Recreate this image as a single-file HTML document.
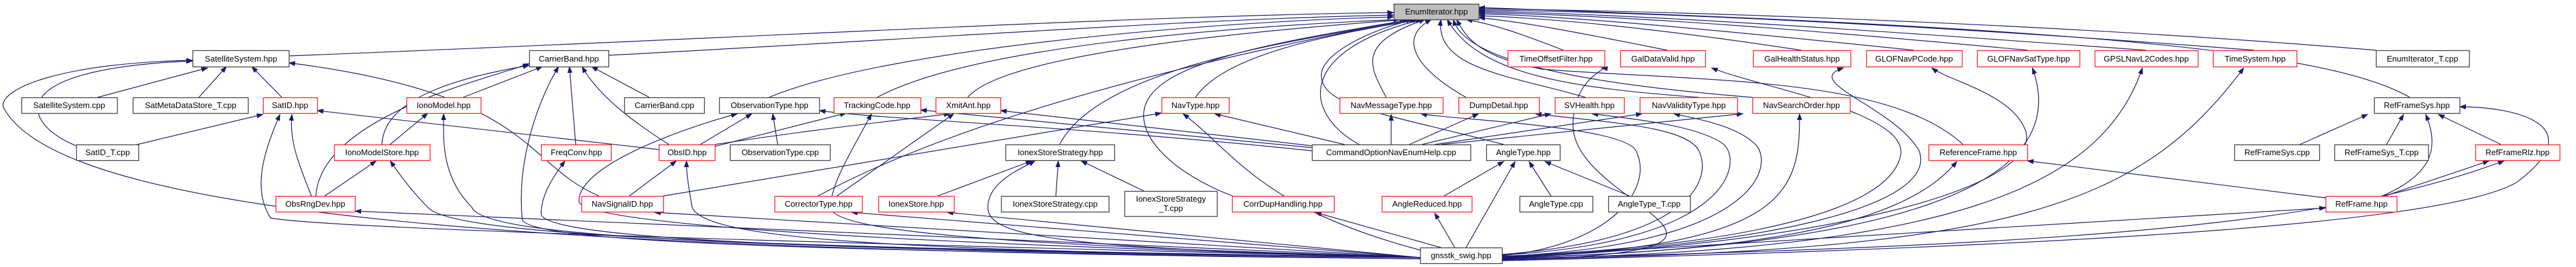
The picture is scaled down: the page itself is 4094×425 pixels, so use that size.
<!DOCTYPE html>
<html><head><meta charset="utf-8"><style>
html,body{margin:0;padding:0;background:#fff;}
svg{display:block;}
text{font-family:"Liberation Sans",sans-serif;font-size:13px;fill:#000;}
</style></head><body>
<svg width="4094" height="425" viewBox="0 0 4094 425" xmlns="http://www.w3.org/2000/svg">
<defs>
<marker id="a" markerWidth="11" markerHeight="8" refX="10" refY="4" orient="auto" markerUnits="userSpaceOnUse">
<path d="M0,0 L11,4 L0,8 z" fill="#191970"/>
</marker>
</defs>
<g fill="none" stroke="#191970" stroke-width="1.2" marker-end="url(#a)">
<!-- to EnumIterator -->
<path d="M459,89 C1200,60 1800,25 2215,20"/>
<path d="M967,88 C1500,60 1900,30 2215,24"/>
<path d="M1222,155 C1400,80 1900,35 2215,27"/>
<path d="M1394,155 C1550,70 2000,40 2225,31"/>
<path d="M1538,155 C1600,80 2050,45 2235,31"/>
<path d="M1684,230 C1750,100 2100,60 2245,31"/>
<path d="M1900,155 C1950,80 2150,50 2255,31"/>
<path d="M1300,312 C1600,150 2100,60 2240,31"/>
<path d="M1959,312 C1850,270 1790,200 1830,150 C1870,100 2000,70 2245,31"/>
<path d="M2160,230 C2070,180 2060,80 2260,31"/>
<path d="M2203,155 C2180,110 2150,70 2265,31"/>
<path d="M2330,155 C2250,110 2220,60 2275,31"/>
<path d="M2390,230 C2200,180 2100,170 2100,120 C2100,80 2200,40 2250,31"/>
<path d="M2520,155 C2400,120 2280,110 2290,31"/>
<path d="M2700,155 C2500,140 2350,120 2300,31"/>
<path d="M2785,155 C2600,140 2330,110 2310,31"/>
<path d="M2485,80 C2420,55 2380,40 2330,31"/>
<path d="M2650,80 C2500,50 2420,35 2350,28"/>
<path d="M2863,80 C2700,55 2500,30 2350,25"/>
<path d="M3042,80 C2800,55 2500,25 2350,22"/>
<path d="M3223,80 C2900,50 2600,25 2350,20"/>
<path d="M3411,80 C3000,50 2600,22 2350,18"/>
<path d="M3583,80 C3200,50 2700,20 2350,16"/>
<path d="M3776,80 C3300,40 2700,18 2350,14"/>
<path d="M3830,155 C3700,80 3300,45 2350,12"/>
<path d="M3120,230 C3000,120 2700,130 2450,110 C2350,90 2330,60 2315,31"/>
<!-- SatelliteSystem -->
<path d="M155,155 L330,108"/>
<path d="M316,155 L360,106"/>
<path d="M448,155 L400,106"/>
<path d="M121,232 C40,200 -10,110 306,97"/>
<path d="M2257,412 C1000,400 100,360 5,170 C0,140 100,100 306,96"/>
<path d="M952,312 C830,260 850,150 459,100"/>
<!-- SatID -->
<path d="M218,230 L418,182"/>
<path d="M495,312 C470,250 460,220 464,182"/>
<path d="M2257,410 C1000,380 500,360 430,347 C400,300 420,240 445,182"/>
<path d="M1047,238 L504,176"/>
<!-- CarrierBand -->
<path d="M502,312 C510,180 800,120 841,101"/>
<path d="M607,230 C610,150 750,120 841,104"/>
<path d="M736,155 L862,106"/>
<path d="M915,230 L905,106"/>
<path d="M1063,230 C1000,190 950,150 925,106"/>
<path d="M1032,155 L940,106"/>
<path d="M2257,412 C1400,400 850,390 830,350 C820,250 860,150 888,106"/>
<!-- IonoModel / IMS / ORD -->
<path d="M620,230 L680,180"/>
<path d="M2257,410 C1200,395 770,380 750,330 C700,280 705,220 705,181"/>
<path d="M516,312 L598,256"/>
<path d="M2257,410 C1300,395 720,380 680,330 C650,300 630,270 620,256"/>
<path d="M2257,410 L564,336"/>
<!-- ObservationType -->
<path d="M1113,230 L1195,181"/>
<path d="M1236,230 L1228,181"/>
<path d="M2257,410 C1500,390 920,360 920,320 C920,260 1100,200 1172,181"/>
<path d="M2085,240 C1700,200 1400,190 1302,176"/>
<!-- TrackingCode / XmitAnt -->
<path d="M1136,233 L1345,180"/>
<path d="M2085,235 L1463,175"/>
<path d="M1136,230 C1300,205 1400,195 1510,181"/>
<path d="M1330,312 L1516,181"/>
<path d="M2085,232 L1590,176"/>
<path d="M2257,410 C1800,395 1320,380 1320,330 C1320,290 1360,230 1385,181"/>
<!-- NavType -->
<path d="M1054,312 L1846,180"/>
<path d="M2137,230 L1930,181"/>
<path d="M2257,398 C2000,330 1960,240 1880,181"/>
<!-- ObsID, FC, NSID, CT, IS -->
<path d="M1000,312 L1075,256"/>
<path d="M2257,410 C1400,400 1120,380 1100,330 C1095,300 1091,280 1091,256"/>
<path d="M2257,410 C1300,400 860,380 860,340 C860,310 880,280 898,256"/>
<path d="M2257,410 L1040,338"/>
<path d="M2257,410 L1353,338"/>
<path d="M2257,410 L1505,338"/>
<!-- IonexStoreStrategy -->
<path d="M1490,312 L1640,256"/>
<path d="M1678,312 L1682,256"/>
<path d="M1818,304 L1718,256"/>
<path d="M2257,410 C1700,395 1570,380 1570,330 C1570,290 1620,270 1645,256"/>
<!-- CDH, NMT, DD, SVH, NVT, NSO -->
<path d="M2290,394 L2090,338"/>
<path d="M2211,230 L2211,182"/>
<path d="M2240,230 L2350,181"/>
<path d="M2260,230 L2465,181"/>
<path d="M2280,230 L2610,181"/>
<path d="M2290,230 L2770,181"/>
<path d="M2387,405 C2700,380 2720,280 2700,240 C2680,200 2550,195 2440,181"/>
<path d="M2387,406 C2750,385 2770,260 2740,230 C2700,200 2600,190 2530,181"/>
<path d="M2387,408 C2800,390 2820,260 2790,230 C2760,200 2700,190 2660,181"/>
<path d="M2387,409 C2850,395 2860,300 2860,181"/>
<path d="M2387,407 C2560,390 2630,300 2600,240 C2580,200 2300,190 2258,181"/>
<!-- AngleType -->
<path d="M2295,312 L2390,257"/>
<path d="M2330,394 L2408,257"/>
<path d="M2465,312 L2430,257"/>
<path d="M2590,312 L2455,257"/>
<path d="M2312,394 L2280,339"/>
<!-- Row1 right -->
<path d="M2387,410 C2900,400 3050,330 3110,257"/>
<path d="M3696,315 L3222,256"/>
<path d="M2387,408 C2800,390 3000,330 3020,250 C3040,180 2800,140 2720,108"/>
<path d="M2387,409 C2850,390 3080,320 3050,240 C3010,170 2860,130 2930,108"/>
<path d="M2387,410 C2900,390 3240,300 3220,210 C3200,150 3100,130 3070,108"/>
<path d="M2387,411 C3000,395 3300,300 3230,108"/>
<path d="M2387,412 C3100,400 3340,300 3405,108"/>
<path d="M2387,413 C3200,400 3400,330 3566,108"/>
<path d="M2387,414 C2900,400 2500,330 2500,200 C2500,120 2560,110 2545,108"/>
<!-- RefFrameSys -->
<path d="M3655,230 L3763,182"/>
<path d="M3793,230 L3820,182"/>
<path d="M3975,230 L3875,182"/>
<path d="M3786,312 C3860,280 3880,240 3855,182"/>
<path d="M2387,415 C3400,390 3900,350 4000,290 C4120,200 4000,170 3909,170"/>
<path d="M3790,312 L3956,256"/>
<path d="M2387,412 C3300,390 3700,360 3980,256"/>
<path d="M2387,410 C3000,370 3500,340 3696,331"/>
</g>
<g stroke-width="1.3">
<rect x="2215.5" y="6.5" width="135" height="25" fill="#bfbfbf" stroke="#404040"/>
<g fill="#fff" stroke="#404040">
<rect x="306.5" y="80.5" width="153" height="26"/>
<rect x="841.5" y="80.5" width="126" height="26"/>
<rect x="3776.5" y="80.5" width="148" height="26"/>
<rect x="34.5" y="155.5" width="152" height="25"/>
<rect x="211.5" y="155.5" width="183" height="25"/>
<rect x="992.5" y="155.5" width="127" height="25"/>
<rect x="1143.5" y="155.5" width="159" height="25"/>
<rect x="3773.5" y="155.5" width="136" height="25"/>
<rect x="121.5" y="230.5" width="99" height="25"/>
<rect x="1160.5" y="230.5" width="159" height="25"/>
<rect x="1598.5" y="230.5" width="173" height="25"/>
<rect x="2085.5" y="230.5" width="252" height="25"/>
<rect x="2362.5" y="230.5" width="117" height="25"/>
<rect x="3551.5" y="230.5" width="135" height="25"/>
<rect x="3710.5" y="230.5" width="149" height="25"/>
<rect x="1591.5" y="312.5" width="171" height="25"/>
<rect x="1787.5" y="304.5" width="147" height="40"/>
<rect x="2415.5" y="312.5" width="116" height="25"/>
<rect x="2556.5" y="312.5" width="130" height="25"/>
<rect x="2257.5" y="394.5" width="130" height="25"/>
</g>
<g fill="#fff" stroke="#ff2020">
<rect x="2396.5" y="80.5" width="154" height="26"/>
<rect x="2575.5" y="80.5" width="135" height="26"/>
<rect x="2786.5" y="80.5" width="155" height="26"/>
<rect x="2966.5" y="80.5" width="152" height="26"/>
<rect x="3142.5" y="80.5" width="163" height="26"/>
<rect x="3329.5" y="80.5" width="164" height="26"/>
<rect x="3517.5" y="80.5" width="133" height="26"/>
<rect x="418.5" y="155.5" width="86" height="25"/>
<rect x="646.5" y="155.5" width="118" height="25"/>
<rect x="1325.5" y="155.5" width="138" height="25"/>
<rect x="1487.5" y="155.5" width="103" height="25"/>
<rect x="1846.5" y="155.5" width="107" height="25"/>
<rect x="2129.5" y="155.5" width="164" height="25"/>
<rect x="2318.5" y="155.5" width="128" height="25"/>
<rect x="2471.5" y="155.5" width="110" height="25"/>
<rect x="2606.5" y="155.5" width="155" height="25"/>
<rect x="2785.5" y="155.5" width="155" height="25"/>
<rect x="531.5" y="230.5" width="152" height="25"/>
<rect x="860.5" y="230.5" width="111" height="25"/>
<rect x="1047.5" y="230.5" width="89" height="25"/>
<rect x="3065.5" y="230.5" width="157" height="25"/>
<rect x="3934.5" y="230.5" width="134" height="25"/>
<rect x="438.5" y="312.5" width="126" height="25"/>
<rect x="924.5" y="312.5" width="130" height="25"/>
<rect x="1231.5" y="312.5" width="139" height="25"/>
<rect x="1396.5" y="312.5" width="120" height="25"/>
<rect x="1958.5" y="312.5" width="162" height="25"/>
<rect x="2196.5" y="312.5" width="143" height="25"/>
<rect x="3696.5" y="312.5" width="113" height="25"/>
</g>
</g>
<g text-anchor="middle">
<text x="2283" y="23">EnumIterator.hpp</text>
<text x="383" y="98">SatelliteSystem.hpp</text>
<text x="904" y="98">CarrierBand.hpp</text>
<text x="2473" y="98">TimeOffsetFilter.hpp</text>
<text x="2643" y="98">GalDataValid.hpp</text>
<text x="2864" y="98">GalHealthStatus.hpp</text>
<text x="3042" y="98">GLOFNavPCode.hpp</text>
<text x="3224" y="98">GLOFNavSatType.hpp</text>
<text x="3411" y="98">GPSLNavL2Codes.hpp</text>
<text x="3584" y="98">TimeSystem.hpp</text>
<text x="3850" y="98">EnumIterator_T.cpp</text>
<text x="110" y="172">SatelliteSystem.cpp</text>
<text x="303" y="172">SatMetaDataStore_T.cpp</text>
<text x="461" y="172">SatID.hpp</text>
<text x="705" y="172">IonoModel.hpp</text>
<text x="1056" y="172">CarrierBand.cpp</text>
<text x="1223" y="172">ObservationType.hpp</text>
<text x="1394" y="172">TrackingCode.hpp</text>
<text x="1539" y="172">XmitAnt.hpp</text>
<text x="1900" y="172">NavType.hpp</text>
<text x="2211" y="172">NavMessageType.hpp</text>
<text x="2382" y="172">DumpDetail.hpp</text>
<text x="2526" y="172">SVHealth.hpp</text>
<text x="2684" y="172">NavValidityType.hpp</text>
<text x="2863" y="172">NavSearchOrder.hpp</text>
<text x="3841" y="172">RefFrameSys.hpp</text>
<text x="171" y="247">SatID_T.cpp</text>
<text x="607" y="247">IonoModelStore.hpp</text>
<text x="916" y="247">FreqConv.hpp</text>
<text x="1092" y="247">ObsID.hpp</text>
<text x="1240" y="247">ObservationType.cpp</text>
<text x="1685" y="247">IonexStoreStrategy.hpp</text>
<text x="2211" y="247">CommandOptionNavEnumHelp.cpp</text>
<text x="2421" y="247">AngleType.hpp</text>
<text x="3144" y="247">ReferenceFrame.hpp</text>
<text x="3619" y="247">RefFrameSys.cpp</text>
<text x="3785" y="247">RefFrameSys_T.cpp</text>
<text x="4001" y="247">RefFrameRlz.hpp</text>
<text x="501" y="329">ObsRngDev.hpp</text>
<text x="989" y="329">NavSignalID.hpp</text>
<text x="1301" y="329">CorrectorType.hpp</text>
<text x="1456" y="329">IonexStore.hpp</text>
<text x="1677" y="329">IonexStoreStrategy.cpp</text>
<text x="1861" y="321">IonexStoreStrategy</text>
<text x="1861" y="336">_T.cpp</text>
<text x="2039" y="329">CorrDupHandling.hpp</text>
<text x="2268" y="329">AngleReduced.hpp</text>
<text x="2473" y="329">AngleType.cpp</text>
<text x="2621" y="329">AngleType_T.cpp</text>
<text x="3753" y="329">RefFrame.hpp</text>
<text x="2322" y="411">gnsstk_swig.hpp</text>
</g>
</svg>
</body></html>
